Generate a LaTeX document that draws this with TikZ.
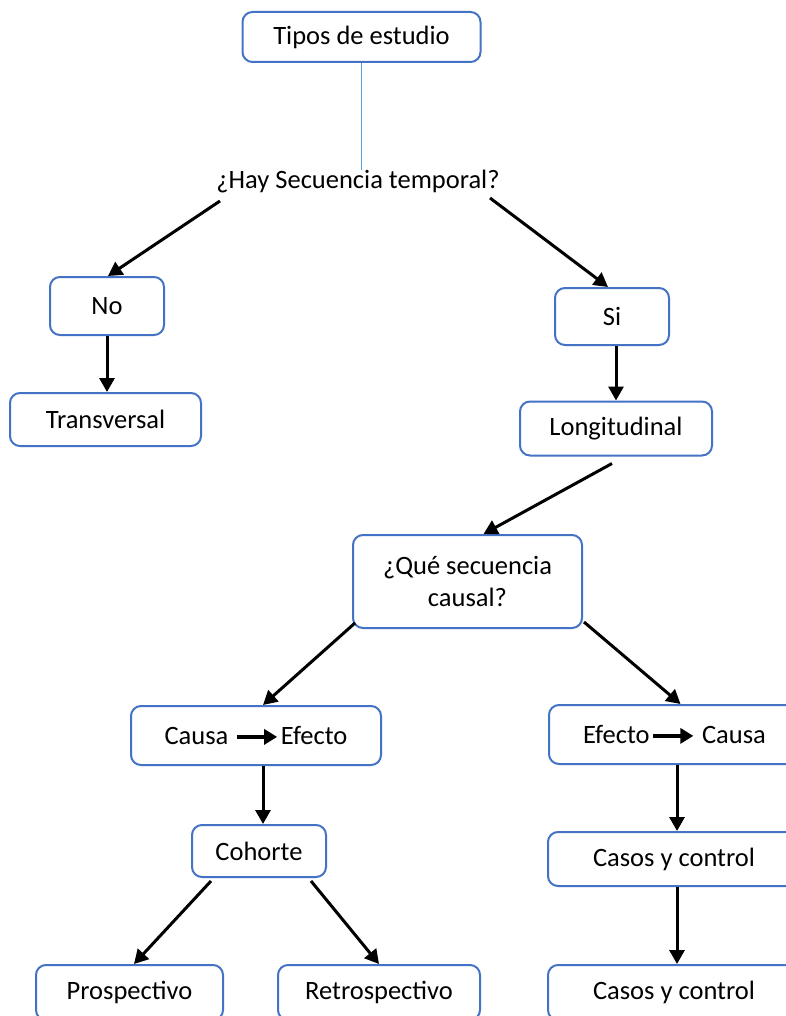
\documentclass[tikz,border=0pt]{standalone}
\usepackage{fontspec}
\setmainfont{Carlito}
\usetikzlibrary{arrows.meta,calc}
\definecolor{boxblue}{RGB}{68,114,196}
\definecolor{lineblue}{RGB}{91,155,213}
\newcommand\inarr{\tikz[baseline=-0.6ex]\draw[line width=3.5pt,-{Triangle[length=13pt,width=15pt]}] (0pt,0pt)--(40pt,0pt);}
\begin{document}
\begin{tikzpicture}[x=1pt,y=-1pt,
  txt/.style={font=\fontsize{26.5}{32}\selectfont},
  box/.style={txt,draw=boxblue,line width=2pt,rounded corners=10pt,fill=white,align=center,inner sep=0pt},
  arr/.style={line width=3pt,-{Triangle[length=14pt,width=15pt]}},
]
\useasboundingbox (0,0) rectangle (786,1016);
\clip (0,0) rectangle (786,1016);
\fill[white] (0,0) rectangle (786,1016);

\node[box,minimum width=238pt,minimum height=50pt] (tipos) at (361.5,37) {Tipos de estudio};
\node[txt,inner sep=0pt] (hay) at (358,182) {¿Hay Secuencia temporal?};
\node[box,minimum width=114pt,minimum height=58pt] (no) at (107,306) {No};
\node[box,minimum width=191pt,minimum height=53pt] (trans) at (105.5,419.5) {Transversal};
\node[box,minimum width=114pt,minimum height=57pt] (si) at (612,316.5) {Si};
\node[box,minimum width=192pt,minimum height=54pt] (long) at (616,428.5) {Longitudinal};
\node[box,minimum width=229pt,minimum height=93pt] (que) at (467.5,581.5) {¿Qué secuencia\\causal?};
\node[box,minimum width=250pt,minimum height=59pt] (ce) at (256,735.5) {Causa\hspace{7pt}\inarr\hspace{2pt}Efecto};
\node[box,minimum width=251pt,minimum height=59pt] (ec) at (674.5,734.5) {Efecto\hspace{2pt}\inarr\hspace{7pt}Causa};
\node[box,minimum width=134pt,minimum height=52pt] (coh) at (259,851) {Cohorte};
\node[box,minimum width=252pt,minimum height=54pt] (cc1) at (674,859) {Casos y control};
\node[box,minimum width=187pt,minimum height=55pt] (pro) at (129.5,992.5) {Prospectivo};
\node[box,minimum width=202pt,minimum height=55pt] (ret) at (379,992.5) {Retrospectivo};
\node[box,minimum width=252pt,minimum height=55pt] (cc2) at (674,992.5) {Casos y control};

\draw[lineblue,line width=1.4pt] (tipos.south) -- (tipos.south |- hay.north);
\draw[arr] ($(hay.center)+(-138,19)$) -- ($(no.north)+(1,0)$);
\draw[arr] ($(hay.center)+(132,16)$) -- ($(si.north)+(-4,0)$);
\draw[arr] (no.south) -- ($(trans.north)+(1.5,0)$);
\draw[arr] ($(si.south)+(4,0)$) -- (long.north);
\draw[arr] ($(long.south)+(-4,7)$) -- ($(que.north)+(16,0)$);
\draw[arr] ($(que.south west)+(3,-6)$) -- ($(ce.north)+(7,0)$);
\draw[arr] ($(que.south east)+(1,-7)$) -- ($(ec.north)+(6,0)$);
\draw[arr] ($(ce.south)+(7,0)$) -- ($(coh.north)+(4,0)$);
\draw[arr] ($(ec.south)+(2.5,0)$) -- ($(cc1.north)+(3,0)$);
\draw[arr] ($(coh.south)+(-48,3)$) -- ($(pro.north)+(4.5,0)$);
\draw[arr] ($(coh.south)+(52,3)$) -- (ret.north);
\draw[arr] ($(cc1.south)+(3,0)$) -- ($(cc2.north)+(3,0)$);
\end{tikzpicture}
\end{document}
